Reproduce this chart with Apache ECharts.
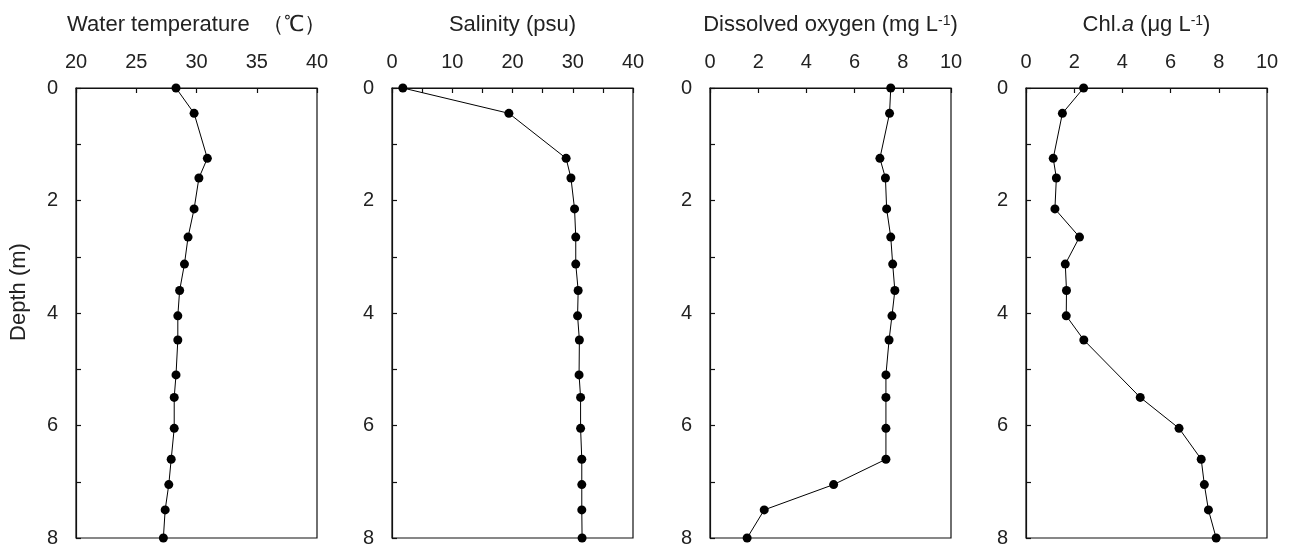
<!DOCTYPE html>
<html>
<head>
<meta charset="utf-8">
<script src="https://cdn.jsdelivr.net/npm/echarts@6/dist/echarts.min.js"></script>
<style>html,body{margin:0;padding:0;background:#fff}#c{width:1293px;height:550px}</style>
</head>
<body>
<div id="c"></div>
<script>
// Depths (m) of the sampling points
const depth = [0, 0.45, 1.25, 1.6, 2.15, 2.65, 3.13, 3.6, 4.05, 4.48, 5.1, 5.5, 6.05, 6.6, 7.05, 7.5, 8.0];
const temperature = [28.3, 29.8, 30.9, 30.2, 29.8, 29.3, 29.0, 28.6, 28.45, 28.45, 28.3, 28.15, 28.15, 27.9, 27.7, 27.4, 27.25];
const salinity = [1.8, 19.4, 28.9, 29.7, 30.3, 30.5, 30.5, 30.9, 30.8, 31.1, 31.05, 31.3, 31.3, 31.5, 31.5, 31.5, 31.55];
const oxygen = [7.5, 7.45, 7.05, 7.28, 7.33, 7.5, 7.58, 7.67, 7.55, 7.43, 7.3, 7.3, 7.3, 7.3, 5.13, 2.25, 1.54];
const chlDepth = [0, 0.45, 1.25, 1.6, 2.15, 2.65, 3.13, 3.6, 4.05, 4.48, 5.5, 6.05, 6.6, 7.05, 7.5, 8.0];
const chl = [2.39, 1.51, 1.13, 1.26, 1.2, 2.22, 1.63, 1.68, 1.67, 2.4, 4.74, 6.35, 7.27, 7.4, 7.57, 7.89];

const titles = [
  'Water temperature  （℃）',
  'Salinity (psu)',
  'Dissolved oxygen (mg L{sup|-1})',
  'Chl.{it|a} ({n|μ}g L{sup|-1})'
];
const xRanges = [
  {min: 20, max: 40, interval: 5, labelEvery: 5},
  {min: 0, max: 40, interval: 5, labelEvery: 10},
  {min: 0, max: 10, interval: 2, labelEvery: 2},
  {min: 0, max: 10, interval: 2, labelEvery: 2}
];
const yAxisName = 'Depth (m)';

const FONT = 'Liberation Sans, Arial, sans-serif';
const TXT = '#222';
const lefts = [76, 392, 710, 1026];

const chart = echarts.init(document.getElementById('c'), null, {renderer: 'canvas'});
const grids = [], xAxes = [], yAxes = [], series = [];
const seriesData = [
  temperature.map((v, i) => [v, depth[i]]),
  salinity.map((v, i) => [v, depth[i]]),
  oxygen.map((v, i) => [v, depth[i]]),
  chl.map((v, i) => [v, chlDepth[i]])
];
for (let k = 0; k < 4; k++) {
  grids.push({left: lefts[k], top: 88, width: 241, height: 450, show: true, borderColor: '#111', borderWidth: 1.2, backgroundColor: 'transparent'});
  const r = xRanges[k];
  xAxes.push({
    type: 'value', gridIndex: k, position: 'top', min: r.min, max: r.max, interval: r.interval,
    name: titles[k], nameLocation: 'middle', nameGap: 52,
    nameTextStyle: {fontFamily: FONT, fontSize: 22, color: TXT,
      rich: {
        sup: {fontFamily: FONT, fontSize: 14, color: TXT, verticalAlign: 'top', padding: [0, 0, 8, 0]},
        it: {fontFamily: FONT, fontSize: 22, color: TXT, fontStyle: 'italic'},
        n: {fontFamily: FONT, fontSize: 22, color: TXT}
      }},
    axisLine: {show: true, lineStyle: {color: '#111', width: 1.2}},
    axisTick: {show: true, inside: true, length: 5, lineStyle: {color: '#111', width: 1.2}},
    axisLabel: {fontFamily: FONT, fontSize: 20, color: TXT, margin: 16,
      formatter: v => (Math.abs(v / r.labelEvery - Math.round(v / r.labelEvery)) < 1e-6 ? String(v) : '')},
    splitLine: {show: false}
  });
  yAxes.push({
    type: 'value', gridIndex: k, inverse: true, min: 0, max: 8, interval: 1,
    axisLine: {show: true, lineStyle: {color: '#111', width: 1.2}},
    axisTick: {show: true, inside: true, length: 5, lineStyle: {color: '#111', width: 1.2}},
    axisLabel: {fontFamily: FONT, fontSize: 20, color: TXT, margin: 18,
      formatter: v => (v % 2 === 0 ? String(v) : '')},
    splitLine: {show: false}
  });
  series.push({
    type: 'line', xAxisIndex: k, yAxisIndex: k, data: seriesData[k],
    symbol: 'circle', symbolSize: 9, showSymbol: true,
    lineStyle: {color: '#000', width: 1},
    itemStyle: {color: '#000'},
    animation: false, silent: true
  });
}
chart.setOption({
  animation: false,
  backgroundColor: '#fff',
  grid: grids, xAxis: xAxes, yAxis: yAxes, series: series,
  graphic: [{
    type: 'text', x: 19, y: 292, rotation: Math.PI / 2,
    style: {text: yAxisName, fontFamily: FONT, fontSize: 22, fill: TXT, textAlign: 'center', textVerticalAlign: 'middle'}
  }]
});
</script>
</body>
</html>
